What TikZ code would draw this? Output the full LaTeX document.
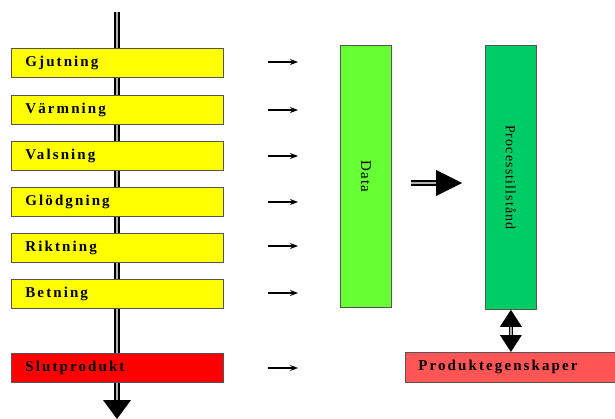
\documentclass[tikz,border=0pt]{standalone}
\usepackage{fontspec}
\setmainfont{Liberation Serif}
\newfontfamily\boxfont[LetterSpace=14]{Liberation Serif}
\newfontfamily\rotfont[LetterSpace=8]{Liberation Serif}
\usetikzlibrary{arrows.meta,calc}
\definecolor{ylw}{HTML}{FFFF00}
\definecolor{rd}{HTML}{FF0000}
\definecolor{lrd}{HTML}{FF5555}
\definecolor{lgrn}{HTML}{66FF33}
\definecolor{dgrn}{HTML}{00CC66}
\definecolor{edge}{HTML}{555555}
\tikzset{
  boxtext/.style={font=\boxfont\fontsize{15}{16}\selectfont\bfseries},
  stepbox/.style={draw=edge, line width=0.8pt, fill=ylw, minimum width=212pt, minimum height=29pt,
    anchor=north west, inner sep=0pt, text width=184pt, align=left, boxtext},
  tallbox/.style={draw=edge, line width=0.8pt, minimum width=51pt, anchor=north west, inner sep=0pt},
  small/.style={line width=1.1pt, -{Stealth[length=8pt,width=6pt]}},
  pipe/.style={draw=black, line width=1.8pt, double=gray!60, double distance=1.6pt},
}
\begin{document}
\begin{tikzpicture}[x=1pt,y=-1pt]
\useasboundingbox (0,0) rectangle (615,419);
% main pipe
\coordinate (ptop) at (117,12);
\coordinate (pbot) at (117,401);
\draw[pipe] (ptop) -- (pbot);
\fill (pbot) ++(-14,-1) -- ++(28,0) -- (117,419) -- cycle;
% process steps
\node[stepbox] (s1) at (11,48) {Gjutning};
\node[stepbox] (s2) at (11,95) {Värmning};
\node[stepbox] (s3) at (11,141) {Valsning};
\node[stepbox] (s4) at (11,187) {Glödgning};
\node[stepbox] (s5) at (11,233) {Riktning};
\node[stepbox] (s6) at (11,279) {Betning};
\node[stepbox, fill=rd] (s7) at (11,353) {Slutprodukt};
% data box
\node[tallbox, fill=lgrn, minimum height=262pt] (data) at (340,45) {};
\node[rotate=-90, font=\rotfont\fontsize{15}{15}\selectfont] at (data.center) {Data};
% process state
\node[tallbox, fill=dgrn, minimum height=264pt] (proc) at (485,45) {};
\node[rotate=-90, font=\rotfont\fontsize{14}{14}\selectfont] at (proc.center) {Processtillstånd};
% product properties
\node[draw=edge, line width=0.8pt, fill=lrd, minimum width=214pt, minimum height=30pt, anchor=north west, inner sep=0pt,
  text width=188pt, align=left, boxtext] (prod) at (405,352) {Produktegenskaper};
% small arrows
\foreach \y/\n in {62/a1,110/a2,156/a3,202/a4,246/a5,293/a6,368/a7}{
  \coordinate (\n s) at (268,\y);
  \coordinate (\n e) at (298,\y);
  \draw[small] (\n s) -- (\n e);
}
% big right arrow
\coordinate (bs) at (411,183);
\coordinate (bm) at (438,183);
\draw[pipe] (bs) -- (bm);
\fill (436,170) -- (462,183) -- (436,196) -- cycle;
% double arrow
\coordinate (dt) at (proc.south);
\coordinate (db) at (prod.north -| proc.south);
\draw[pipe, line width=1.2pt, double distance=1.2pt] ($(dt)+(0,14)$) -- ($(db)+(0,-14)$);
\fill (dt) -- ++(11,17) -- ++(-22,0) -- cycle;
\fill (db) -- ++(11,-17) -- ++(-22,0) -- cycle;
\end{tikzpicture}
\end{document}
